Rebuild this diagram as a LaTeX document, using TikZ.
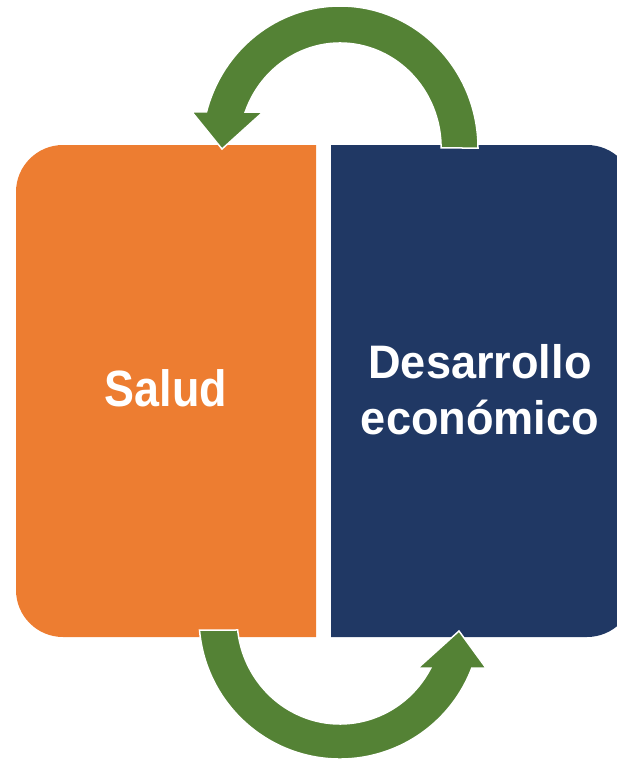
\documentclass[tikz,border=0pt]{standalone}
\usepackage{fontspec}
\setmainfont{Liberation Sans}
\newfontfamily\saludfont{Liberation Sans}[FakeStretch=0.88]
\newfontfamily\desfont{Liberation Sans}[FakeStretch=0.96]
\definecolor{boxorange}{HTML}{ED7D31}
\definecolor{boxblue}{HTML}{203864}
\definecolor{arrowgreen}{HTML}{548235}
\tikzset{
  boxtext/.style={text=white, inner sep=0pt},
  cyclearrow/.style={fill=arrowgreen, draw=white, line width=1.5pt, line join=miter}
}
\begin{document}
\begin{tikzpicture}[x=1pt,y=1pt]
\useasboundingbox (0,0) rectangle (617,-760);
\clip (0,0) rectangle (617,-760);
% boxes
\fill[boxorange] (316,-145) -- (63,-145) arc[start angle=90,end angle=180,radius=47]
  -- (16,-590) arc[start angle=180,end angle=270,radius=47] -- (316,-637) -- cycle;
\fill[boxblue] (331,-145) -- (587,-145) arc[start angle=90,end angle=0,radius=47]
  -- (634,-590) arc[start angle=0,end angle=-90,radius=47] -- (331,-637) -- cycle;
% texts
\node[boxtext, anchor=base, font=\saludfont\bfseries\fontsize{51}{60}\selectfont] (salud) at (166,-406) {Salud};
\node[boxtext, anchor=base, align=center, font=\desfont\bfseries\fontsize{47}{56}\selectfont] (desarrollo) at (480,-434)
  {Desarrollo\\ económico};
% top arrow: from blue box back to orange box
\path[cyclearrow] (478,-148) arc[start angle=0,end angle=165.3,x radius=138,y radius=142]
  -- (192,-112) -- (222,-149) -- (263,-112) -- (245.2,-112)
  arc[start angle=159.95,end angle=0,x radius=101,y radius=105] -- cycle;
% bottom arrow: from orange box to blue box
\path[cyclearrow] (199.5,-630) arc[start angle=184.88,end angle=339.23,x radius=141,y radius=141]
  -- (486,-668) -- (459,-631) -- (418,-668) -- (430.8,-668)
  arc[start angle=331.85,end angle=186.5,x radius=103,y radius=106] -- cycle;
\end{tikzpicture}
\end{document}
